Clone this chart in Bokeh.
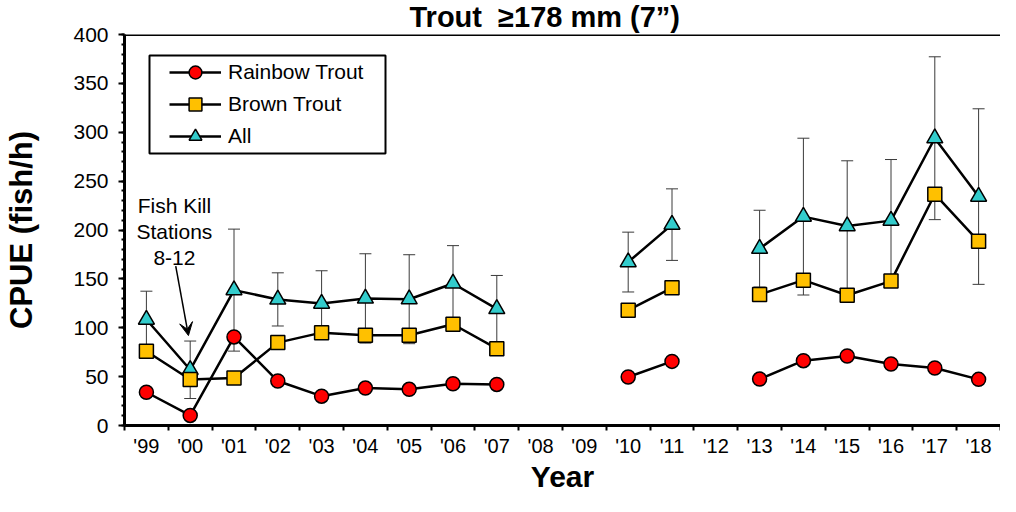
import math
import numpy as np
from bokeh.plotting import figure
from bokeh.models import (Range1d, FixedTicker, Whisker, TeeHead, ColumnDataSource,
                          Legend, LegendItem, Label, Arrow, VeeHead, Span, BoxAnnotation)
from bokeh.embed import file_html
from bokeh.resources import INLINE

# ---------------- data ----------------
years = ["'99", "'00", "'01", "'02", "'03", "'04", "'05", "'06", "'07", "'08",
         "'09", "'10", "'11", "'12", "'13", "'14", "'15", "'16", "'17", "'18"]
rainbow = [34, 10.3, 90.6, 45.5, 30, 38.3, 37, 42.7, 42, None,
           None, 49.6, 65.6, None, 47.5, 66.3, 71.1, 62.9, 58.8, 47.2]
brown = [76, 47, 48.5, 84.8, 95, 92.3, 92.3, 103.6, 78.6, None,
         None, 118, 140.9, None, 134, 148.7, 133.3, 147.7, 236.6, 188.4]
all_trout = [108.4, 57, 138.5, 129, 124.8, 130, 129.2, 145.3, 119.3, None,
             None, 167.2, 205.5, None, 180.9, 213.7, 204, 209.6, 293.9, 234.2]
all_err = [29, 29.4, 62.4, 27.2, 33.5, 45.7, 45.5, 38.7, 34.2, None,
           None, 30.6, 36.6, None, 39.3, 80.2, 66.8, 62.5, 83.3, 89.8]
y_ticks = [0, 50, 100, 150, 200, 250, 300, 350, 400]
title_text = "Trout \u00a0\u2265178 mm (7\u201d)"
note_text = "Fish Kill\nStations\n8-12"

FONT = "Liberation Sans"

# ---------------- layout constants ----------------
W, H = 1000, 496
BL, BR, BT, BB = 124, 0, 34, 71
FW, FH = W - BL - BR, H - BT - BB
NX = len(years)
YMAX = 400.0
px_x = FW / NX
px_y = FH / YMAX


def nan(v):
    return np.array([np.nan if a is None else a for a in v], dtype=float)


xs = np.arange(NX) + 0.5
src = ColumnDataSource(dict(x=xs, rb=nan(rainbow), br=nan(brown), al=nan(all_trout)))

ex = [x for x, e in zip(xs, all_err) if e is not None]
ey = [a for a, e in zip(all_trout, all_err) if e is not None]
ee = [e for e in all_err if e is not None]
esrc = ColumnDataSource(dict(x=ex, upper=[a + e for a, e in zip(ey, ee)],
                             lower=[a - e for a, e in zip(ey, ee)]))

p = figure(width=W, height=H, output_backend="svg", toolbar_location=None,
           title=title_text,
           x_range=Range1d(0, NX), y_range=Range1d(0, YMAX),
           min_border_left=BL, min_border_right=BR, min_border_top=BT, min_border_bottom=BB)
p.outline_line_color = None
p.outline_line_alpha = 0
p.grid.visible = False
p.background_fill_color = "white"
p.border_fill_color = "white"

p.title.text_font = FONT
p.title.text_font_size = "29px"
p.title.text_font_style = "bold"
p.title.text_color = "black"
p.title.align = "left"
p.title.offset = 285
p.title.standoff = 0
p.title.vertical_align = "top"

# x axis
xa = p.xaxis[0]
xa.ticker = FixedTicker(ticks=list(xs), minor_ticks=list(range(NX + 1)))
xa.major_label_overrides = {float(x): lab for x, lab in zip(xs, years)}
xa.major_tick_out = 0
xa.major_tick_in = 0
xa.minor_tick_out = 5
xa.minor_tick_in = 0
xa.minor_tick_line_width = 2
xa.minor_tick_line_color = "black"
xa.axis_line_width = 3
xa.axis_line_color = "black"
xa.major_label_text_font = FONT
xa.major_label_text_font_size = "20px"
xa.major_label_text_color = "black"
xa.major_label_standoff = 4
xa.axis_label = "Year"
xa.axis_label_text_font = FONT
xa.axis_label_text_font_size = "30px"
xa.axis_label_text_font_style = "bold"
xa.axis_label_text_color = "black"
xa.axis_label_standoff = 0

# y axis
ya = p.yaxis[0]
ya.ticker = FixedTicker(ticks=y_ticks, minor_ticks=list(range(0, 401, 10)))
ya.major_tick_out = 6
ya.major_tick_in = 0
ya.minor_tick_out = 3
ya.minor_tick_in = 0
ya.major_tick_line_width = 2
ya.minor_tick_line_width = 2
ya.axis_line_width = 3
ya.axis_line_color = "black"
ya.major_label_text_font = FONT
ya.major_label_text_font_size = "21px"
ya.major_label_text_color = "black"
ya.major_label_standoff = 10
ya.axis_label = "CPUE (fish/h)"
ya.axis_label_text_font = FONT
ya.axis_label_text_font_size = "31px"
ya.axis_label_text_font_style = "bold"
ya.axis_label_text_color = "black"
ya.axis_label_standoff = 31

# top border
p.add_layout(Span(location=YMAX, dimension="width", line_color="black", line_width=3))

# error bars (All)
wh = Whisker(source=esrc, base="x", upper="upper", lower="lower", dimension="height",
             line_color="#3a3a3a", line_width=1, level="underlay",
             upper_head=TeeHead(size=12, line_color="#3a3a3a", line_width=1),
             lower_head=TeeHead(size=12, line_color="#3a3a3a", line_width=1))
p.add_layout(wh)

l_al = p.line("x", "al", source=src, line_color="black", line_width=2.5)
l_br = p.line("x", "br", source=src, line_color="black", line_width=2.5)
l_rb = p.line("x", "rb", source=src, line_color="black", line_width=2.5)
s_al = p.scatter("x", "al", source=src, marker="triangle", size=16, fill_color="#33CCCC",
                 line_color="black", line_width=1.5)
s_br = p.scatter("x", "br", source=src, marker="square", size=14, fill_color="#FFC000",
                 line_color="black", line_width=1.5)
s_rb = p.scatter("x", "rb", source=src, marker="circle", size=14, fill_color="#FF0000",
                 line_color="black", line_width=1.5)

# legend box
LG_L, LG_T, LG_W, LG_H = 25, 21, 236, 98
p.add_layout(BoxAnnotation(left=LG_L / px_x, right=(LG_L + LG_W) / px_x,
                           top=YMAX - LG_T / px_y, bottom=YMAX - (LG_T + LG_H) / px_y,
                           fill_alpha=0, line_color="black", line_width=2, line_alpha=1))
legend = Legend(items=[LegendItem(label="Rainbow Trout", renderers=[l_rb, s_rb]),
                       LegendItem(label="Brown Trout", renderers=[l_br, s_br]),
                       LegendItem(label="All", renderers=[l_al, s_al])],
                location=(LG_L + 20, FH - LG_T - 1 - 96), padding=0, spacing=0, margin=0,
                glyph_height=32, glyph_width=52, label_height=32, label_standoff=7,
                border_line_alpha=0, background_fill_alpha=0,
                label_text_font=FONT, label_text_font_size="21px", label_text_color="black")
p.add_layout(legend)

# annotation
p.add_layout(Label(x=1.14, y=198.5, text=note_text, text_align="center",
                   text_baseline="middle", text_font=FONT, text_font_size="21px",
                   text_line_height=1.15, text_color="black"))
p.add_layout(Arrow(x_start=1.17, y_start=163, x_end=1.46, y_end=92,
                   line_color="black", line_width=1.5,
                   end=VeeHead(size=13, fill_color="black", line_color="black", line_width=1)))

open("out.html", "w").write(file_html(p, INLINE))
